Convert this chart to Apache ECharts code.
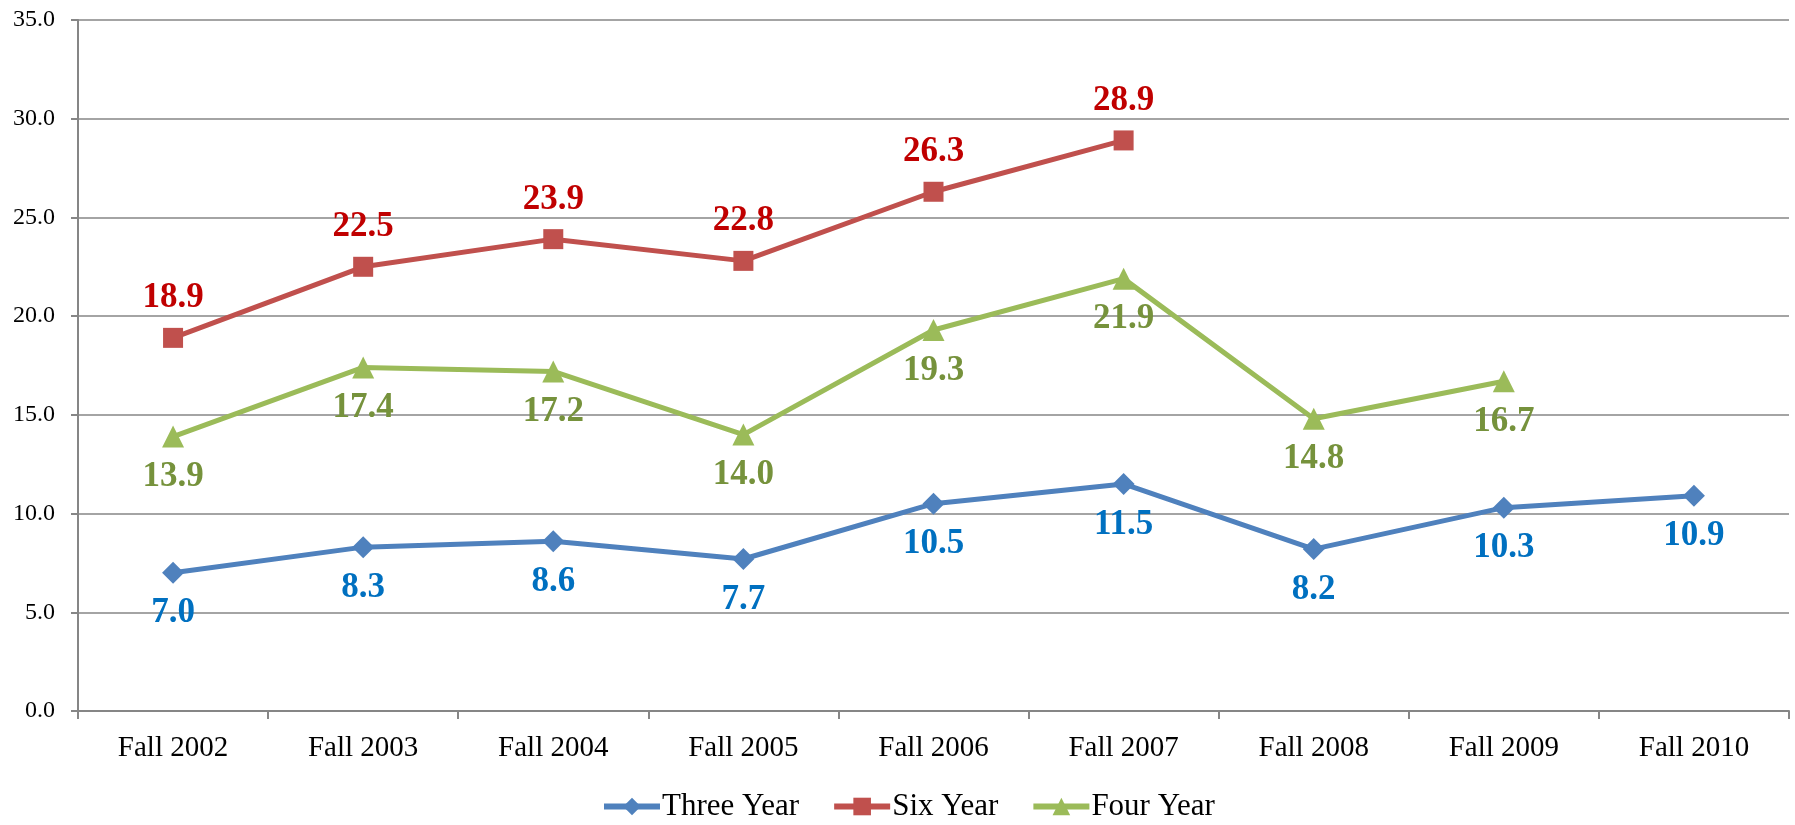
<!DOCTYPE html>
<html>
<head>
<meta charset="utf-8">
<script src="https://cdn.jsdelivr.net/npm/echarts@6/dist/echarts.min.js"></script>
<style>
  html, body { margin: 0; padding: 0; background: #fff; }
  #chart { width: 1795px; height: 825px; }
</style>
</head>
<body>
<div id="chart"></div>
<script>
const categories = ['Fall 2002', 'Fall 2003', 'Fall 2004', 'Fall 2005', 'Fall 2006', 'Fall 2007', 'Fall 2008', 'Fall 2009', 'Fall 2010']
const threeYear = [7.0, 8.3, 8.6, 7.7, 10.5, 11.5, 8.2, 10.3, 10.9]
const sixYear = [18.9, 22.5, 23.9, 22.8, 26.3, 28.9, null, null, null]
const fourYear = [13.9, 17.4, 17.2, 14.0, 19.3, 21.9, 14.8, 16.7, null]

const font = '"Liberation Serif", "DejaVu Serif", serif'

var myChart = echarts.init(document.getElementById('chart'))

function makeSeries(name, data, color, labelColor, symbol, symbolSize, pos) {
  return {
    name: name,
    type: 'line',
    data: data,
    symbol: symbol,
    symbolSize: symbolSize,
    lineStyle: { color: color, width: 5 },
    itemStyle: { color: color },
    label: {
      show: true,
      position: pos,
      distance: 12,
      color: labelColor,
      fontFamily: font,
      fontWeight: 'bold',
      fontSize: 35,
      formatter: (p) => p.value.toFixed(1),
    },
    animation: false,
  }
}

var option = {
  backgroundColor: '#fff',
  grid: {
    left: 78,
    right: 6,
    top: 20,
    bottom: 114,
  },
  legend: {
    top: 786,
    left: 596,
    itemWidth: 56,
    itemHeight: 22,
    itemGap: 32,
    lineStyle: { width: 6 },
    textStyle: {
      color: '#000',
      fontFamily: font,
      fontSize: 31,
      padding: [0, 0, 0, -3],
    },
    data: ['Three Year', 'Six Year', 'Four Year'],
  },
  xAxis: {
    type: 'category',
    data: categories,
    boundaryGap: true,
    axisLine: { lineStyle: { color: '#868686', width: 2 } },
    axisTick: { show: true, length: 8, lineStyle: { color: '#868686', width: 2 } },
    axisLabel: {
      color: '#000',
      fontFamily: font,
      fontSize: 29,
      margin: 23,
    },
  },
  yAxis: {
    type: 'value',
    min: 0,
    max: 35,
    interval: 5,
    axisLine: { show: true, lineStyle: { color: '#868686', width: 2 } },
    axisTick: { show: true, length: 7, lineStyle: { color: '#868686', width: 2 } },
    splitLine: { lineStyle: { color: '#868686', width: 1.5 } },
    axisLabel: {
      color: '#000',
      fontFamily: font,
      fontSize: 24,
      margin: 23,
      formatter: (v) => v.toFixed(1),
    },
  },
  series: [
    makeSeries('Three Year', threeYear, '#4F81BD', '#0070C0', 'diamond', 22, 'bottom'),
    makeSeries('Six Year', sixYear, '#C0504D', '#C00000', 'rect', 20, 'top'),
    makeSeries('Four Year', fourYear, '#9BBB59', '#76923C', 'triangle', 22, 'bottom'),
  ],
}

option && myChart.setOption(option)
</script>
</body>
</html>
